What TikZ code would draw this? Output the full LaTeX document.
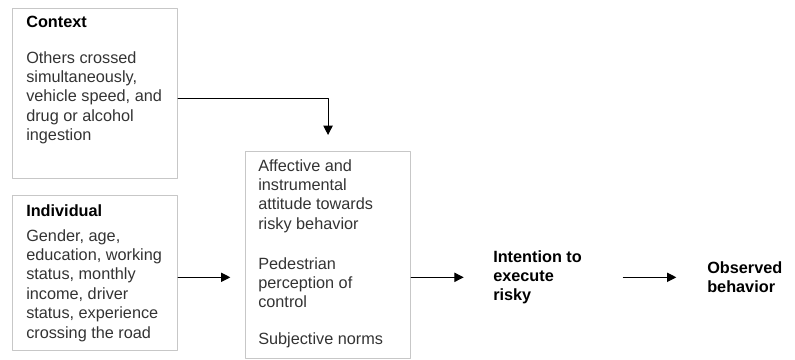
\documentclass[tikz,border=0pt]{standalone}
\usepackage{fontspec}
\setmainfont{Liberation Sans}
\usetikzlibrary{arrows.meta}
\tikzset{
  box/.style={draw=black!22,line width=0.8pt,anchor=north west,inner sep=0pt,minimum width=123.75pt},
  txt/.style={anchor=north west,align=left,inner sep=0pt,text=black!80,font=\fontsize{12.2}{14.6}\selectfont},
  head/.style={txt,text=black,font=\fontsize{12.2}{14.6}\selectfont\bfseries},
  link/.style={->,line width=0.8pt}
}

\begin{document}
\begin{tikzpicture}[line cap=round,line join=round,>={Triangle[length=7pt,width=7pt]},x=0.75pt,y=-0.75pt]
\useasboundingbox (0,0) rectangle (795,360);
% boxes
\node[box,minimum height=127.5pt] (context) at (12,8) {};
\node[box,minimum height=116.25pt] (indiv) at (12,195) {};
\node[box,minimum height=155.25pt] (attit) at (245,151) {};
% texts
\node[head] (contexthead) at (26,16) {Context};
\node[txt] (contextbody) at (26,51) {Others crossed\\simultaneously,\\vehicle speed, and\\drug or alcohol\\ingestion};
\node[head] (indivhead) at (26,204) {Individual};
\node[txt] (indivbody) at (26,229) {Gender, age,\\education, working\\status, monthly\\income, driver\\status, experience\\crossing the road};
\node[txt] (affect) at (258,159) {Affective and\\instrumental\\attitude towards\\risky behavior};
\node[txt] (percep) at (258,257) {Pedestrian\\perception of\\control};
\node[txt] (norms) at (258,332) {Subjective norms};
\node[head] (intent) at (493,250) {Intention to\\execute\\risky};
\node[head] (observ) at (707,261) {Observed\\behavior};
% connectors
\draw[link,shorten >=12pt] ([yshift=-3.75pt]context.east) -| (attit.north);
\draw[link,shorten >=11pt] (indiv.east |- intent.west) -- (attit.west |- intent.west);
\draw[link,shorten >=22pt] (attit.east |- intent.west) -- (intent.west);
\draw[link,shorten <=31pt,shorten >=23pt] (intent.east |- intent.west) -- (observ.west |- intent.west);
\end{tikzpicture}
\end{document}
